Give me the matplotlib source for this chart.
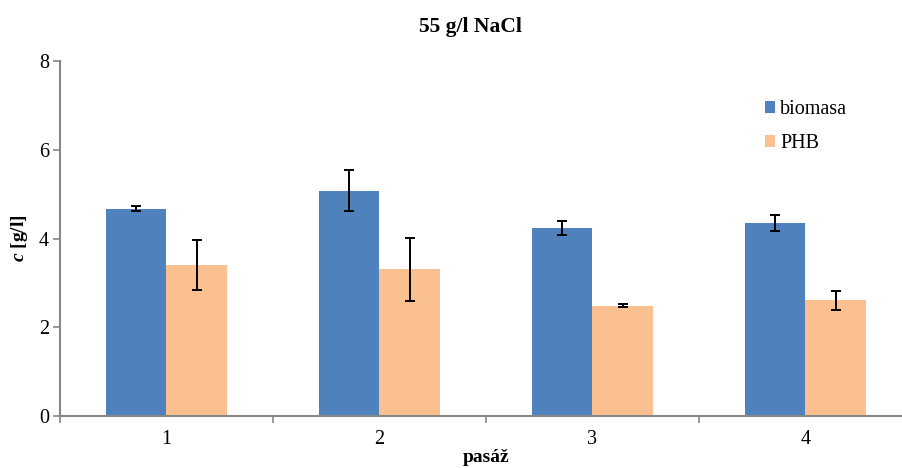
import numpy as np
import matplotlib.pyplot as plt

passages = ["1", "2", "3", "4"]
biomasa = [4.67, 5.08, 4.24, 4.36]
biomasa_err = [0.06, 0.46, 0.15, 0.18]
phb = [3.40, 3.31, 2.49, 2.61]
phb_err = [0.56, 0.71, 0.04, 0.21]

plt.rcParams['font.family'] = ['Liberation Serif', 'DejaVu Serif']
plt.rcParams['mathtext.fontset'] = 'custom'
plt.rcParams['mathtext.it'] = 'Liberation Serif:italic:bold'
plt.rcParams['mathtext.rm'] = 'Liberation Serif:bold'

fig = plt.figure(figsize=(9.02, 4.68), dpi=100)
ax = fig.add_axes([60 / 902, 52 / 468, 852 / 902, 355 / 468])

x = np.arange(1, len(passages) + 1)
w = 0.283
err_kw = dict(ecolor='black', elinewidth=1.4, capsize=3.3, capthick=1.4)
ax.bar(x - w / 2, biomasa, w, color='#4F81BD', yerr=biomasa_err, error_kw=err_kw, label='biomasa')
ax.bar(x + w / 2, phb, w, color='#FAC090', yerr=phb_err, error_kw=err_kw, label='PHB')

ax.set_xlim(0.5, len(passages) + 0.5)
ax.set_ylim(0, 8)
ax.set_yticks([0, 2, 4, 6, 8])
ax.set_xticks(x)
ax.set_xticklabels(passages)
ax.set_xticks(np.arange(0.5, len(passages) + 1, 1), minor=True)
ax.tick_params(axis='x', which='major', length=0, pad=10, labelsize=14.5)
ax.tick_params(axis='x', which='minor', length=5, width=1.2, color='#878787')
ax.tick_params(axis='y', length=5, width=1.2, color='#878787', pad=3, labelsize=14.5)

for s in ['top', 'right']:
    ax.spines[s].set_visible(False)
for s in ['left', 'bottom']:
    ax.spines[s].set_color('#878787')
    ax.spines[s].set_linewidth(1.5)

fig.text(470 / 902, 1 - 27 / 468, '55 g/l NaCl', ha='center', va='center',
         fontsize=15.5, fontweight='bold')
fig.text(486 / 902, 1 - 458 / 468, 'pasáž', ha='center', va='center',
         fontsize=14, fontweight='bold')
fig.text(20 / 902, 1 - 238 / 468, r'$\mathit{c}$ [g/l]', ha='center', va='center',
         rotation=90, fontsize=14, fontweight='bold')

ax.legend(loc='upper left', bbox_to_anchor=(765 / 902, 1 - 100 / 468),
          bbox_transform=fig.transFigure, frameon=False, fontsize=14.5,
          handlelength=0.5, handleheight=0.5, handletextpad=0.25,
          labelspacing=0.75, borderpad=0, borderaxespad=0)

fig.savefig('out.png', dpi=100)
